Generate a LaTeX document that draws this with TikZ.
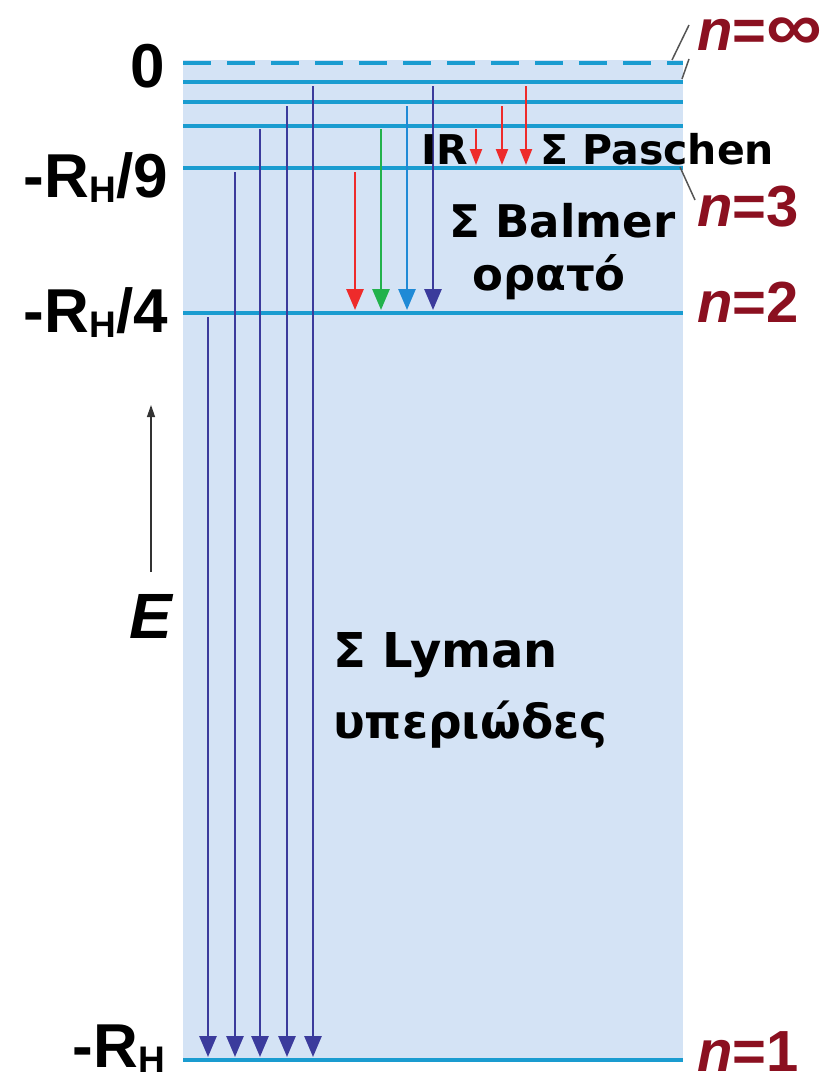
\documentclass[tikz,border=0pt]{standalone}
\usepackage{fontspec}
\setmainfont{Liberation Sans}
\newfontfamily\serieslabel{DejaVu Sans}
\usetikzlibrary{arrows.meta}

\definecolor{panel}{HTML}{D4E3F5}
\definecolor{level}{HTML}{1A9CD0}
\definecolor{uvblue}{HTML}{3B3B9C}
\definecolor{lred}{HTML}{EE2B2B}
\definecolor{lgreen}{HTML}{22B24C}
\definecolor{lblue}{HTML}{1F8AD6}
\definecolor{qnum}{HTML}{8B1020}
\definecolor{leader}{HTML}{555555}

\newcommand{\fs}[1]{\fontsize{#1pt}{#1pt}\selectfont}
\newcommand{\RH}{R\raisebox{-5pt}{\fs{37}H}}

\tikzset{
  levelline/.style={level, line width=3.5pt},
  trans/.style={line width=2.8pt, -{Triangle[width=17pt,length=21pt]}},
  smalltrans/.style={line width=2.2pt, -{Triangle[width=12pt,length=16pt]}},
  axislabel/.style={inner sep=0pt, anchor=base east, font=\fs{62}\bfseries},
  nlabel/.style={inner sep=0pt, anchor=base west, text=qnum, font=\fs{58}\bfseries},
  serieslab/.style={inner sep=0pt, anchor=base west},
  leaderline/.style={leader, line width=1.5pt},
}

\begin{document}
\begin{tikzpicture}[x=1pt,y=-1pt]
\useasboundingbox (0,0) rectangle (835,1081);

% panel behind the energy levels
\fill[panel] (183,60) rectangle (683,1062);

% energy levels
\draw[levelline, dash pattern=on 28pt off 16pt] (183,63) -- (683,63);
\foreach \yy/\nm in {82/six,102/five,126/four,168/three,313/two,1060/one}{
  \coordinate (L\nm) at (183,\yy);
  \coordinate (R\nm) at (683,\yy);
  \draw[levelline] (L\nm) -- (R\nm);
}

% Lyman series
\foreach \xx/\ys in {208/317,235/172,260/129,287/106,313/86}{
  \coordinate (ls) at (\xx,\ys);
  \coordinate (le) at (\xx,1057);
  \draw[trans, uvblue] (ls) -- (le);
}

% Balmer series
\foreach \xx/\ys/\cc in {355/172/lred,381/129/lgreen,407/106/lblue,433/86/uvblue}{
  \coordinate (bs) at (\xx,\ys);
  \coordinate (be) at (\xx,310);
  \draw[trans, \cc] (bs) -- (be);
}

% Paschen series
\foreach \xx/\ys in {476/129,502/106,526/86}{
  \coordinate (ps) at (\xx,\ys);
  \coordinate (pe) at (\xx,165);
  \draw[smalltrans, lred] (ps) -- (pe);
}

% energy values
\node[axislabel] (e0) at (165,87) {0};
\node[axislabel] (e3) at (168,197) {-\RH/9};
\node[axislabel] (e2) at (168,332) {-\RH/4};
\node[axislabel] (e1) at (165,1067) {-\RH};

% energy axis
\node[inner sep=0pt, anchor=base, font=\fs{64}\bfseries\itshape] (E) at (151,638) {E};
\coordinate (ea) at (151,572);
\coordinate (eb) at (151,405);
\draw[line width=1.3pt, black!80, -{Triangle[width=8pt,length=12pt]}] (ea) -- (eb);

% quantum numbers
\node[nlabel] (ninf) at (697,51) {\itshape n\upshape=\scalebox{1.35}[1.2]{\char"221E}};
\node[nlabel] (n3) at (697,226) {\itshape n\upshape=3};
\node[nlabel] (n2) at (697,322) {\itshape n\upshape=2};
\node[nlabel] (n1) at (697,1071) {\itshape n\upshape=1};

% leader lines
\coordinate (a1) at (672,60);  \coordinate (a2) at (689,25);
\coordinate (b1) at (682,79);  \coordinate (b2) at (689,59);
\coordinate (c1) at (680,167); \coordinate (c2) at (695,200);
\draw[leaderline] (a1) -- (a2);
\draw[leaderline] (b1) -- (b2);
\draw[leaderline] (c1) -- (c2);

% series names
\node[serieslab, font=\serieslabel\fs{41}\bfseries] (ir) at (421,164) {IR};
\node[serieslab, font=\serieslabel\fs{41}\bfseries] (pas) at (540,164) {Σ Paschen};
\node[serieslab, font=\serieslabel\fs{45}\bfseries] (bal) at (449,237) {Σ Balmer};
\node[serieslab, font=\serieslabel\fs{45}\bfseries] (vis) at (472,290) {ορατό};
\node[serieslab, font=\serieslabel\fs{48}\bfseries] (lym) at (333,667) {Σ Lyman};
\node[serieslab, font=\serieslabel\fs{47}\bfseries] (uv) at (333,738) {υπεριώδες};
\end{tikzpicture}
\end{document}
